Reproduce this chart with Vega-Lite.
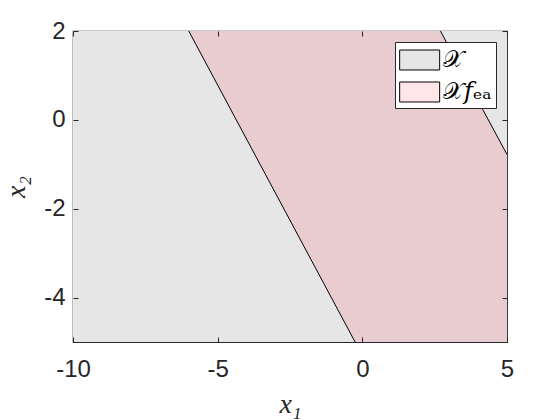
{
  "$schema": "https://vega.github.io/schema/vega-lite/v6.json",
  "width": 434,
  "height": 311,
  "autosize": {"type": "none"},
  "padding": {"left": 73, "top": 31, "right": 53, "bottom": 78},
  "background": "white",
  "config": {
    "view": {"stroke": "#262626", "strokeWidth": 1.2},
    "axis": {
      "grid": false,
      "domain": false,
      "ticks": true,
      "tickColor": "#262626",
      "tickSize": -5,
      "tickWidth": 1,
      "labelFont": "Liberation Sans",
      "labelFontSize": 24,
      "labelColor": "#262626",
      "labelFlush": false,
      "labelOverlap": false,
      "labelExpr": "replace(datum.label, '−', '-')",
      "titleFont": "Liberation Serif",
      "titleFontStyle": "italic",
      "titleFontWeight": "normal",
      "titleFontSize": 28,
      "titleColor": "#262626"
    },
    "legend": {
      "orient": "none",
      "legendX": 322,
      "legendY": 11,
      "zindex": 3,
      "fillColor": "white",
      "strokeColor": "#262626",
      "padding": 4,
      "rowPadding": 6,
      "symbolType": "M-1,-0.75H2V0.75H-1Z",
      "symbolSize": 711,
      "symbolStrokeColor": "black",
      "symbolStrokeWidth": 1,
      "symbolOpacity": 1,
      "labelFont": "DejaVu Serif",
      "labelFontSize": 24,
      "labelOffset": 16,
      "labelColor": "black",
      "title": null
    }
  },
  "resolve": {"axis": {"x": "independent", "y": "independent"}},
  "layer": [
    {
      "data": {"values": [{"x": -10, "x2": 5, "y": -5, "y2": 2}]},
      "mark": {"type": "rect", "color": "#e6e6e6"},
      "encoding": {
        "x": {
          "field": "x", "type": "quantitative",
          "scale": {"domain": [-10, 5], "nice": false, "zero": false},
          "axis": {"orient": "bottom", "zindex": 1, "values": [-10, -5, 0, 5], "labelPadding": 20, "title": "x₁", "titleBaseline": "alphabetic", "titleY": 70}
        },
        "x2": {"field": "x2"},
        "y": {
          "field": "y", "type": "quantitative",
          "scale": {"domain": [-5, 2], "nice": false, "zero": false},
          "axis": {"orient": "left", "zindex": 1, "values": [-4, -2, 0, 2], "labelPadding": 13, "title": "x₂", "titleBaseline": "alphabetic", "titleX": -49}
        },
        "y2": {"field": "y2"}
      }
    },
    {
      "data": {"values": [
        {"x": -6, "lo": 2, "hi": 2},
        {"x": -0.25, "lo": -5, "hi": 2},
        {"x": 2.7, "lo": -5, "hi": 2},
        {"x": 5, "lo": -5, "hi": -0.78}
      ]},
      "mark": {"type": "area", "color": "#e9ccd0", "opacity": 1},
      "encoding": {
        "x": {"field": "x", "type": "quantitative", "axis": null},
        "y": {"field": "lo", "type": "quantitative", "axis": null},
        "y2": {"field": "hi"}
      }
    },
    {
      "data": {"values": [
        {"seg": "L", "x": -6, "y": 2},
        {"seg": "L", "x": -0.25, "y": -5},
        {"seg": "R", "x": 2.7, "y": 2},
        {"seg": "R", "x": 5, "y": -0.78}
      ]},
      "mark": {"type": "line", "color": "black", "strokeWidth": 1},
      "encoding": {
        "x": {"field": "x", "type": "quantitative", "axis": {"orient": "top", "zindex": 1, "values": [-10, -5, 0, 5], "labels": false, "title": null}},
        "y": {"field": "y", "type": "quantitative", "axis": {"orient": "right", "zindex": 1, "values": [-4, -2, 0, 2], "labels": false, "title": null}},
        "detail": {"field": "seg"}
      }
    },
    {
      "data": {"values": [
        {"name": "𝒳", "x": -10, "y": -5},
        {"name": "𝒳𝑓ₑₐ", "x": -10, "y": -5}
      ]},
      "mark": {"type": "rect"},
      "encoding": {
        "x": {"field": "x", "type": "quantitative", "axis": null},
        "x2": {"field": "x"},
        "y": {"field": "y", "type": "quantitative", "axis": null},
        "y2": {"field": "y"},
        "color": {
          "field": "name", "type": "nominal",
          "scale": {"domain": ["𝒳", "𝒳𝑓ₑₐ"], "range": ["#e6e6e6", "#ffe6e8"]},
          "legend": {
            "encode": {"symbols": {"update": {"stroke": {"value": "black"}, "strokeWidth": {"value": 1}, "opacity": {"value": 1}}}}
          }
        }
      }
    }
  ]
}
